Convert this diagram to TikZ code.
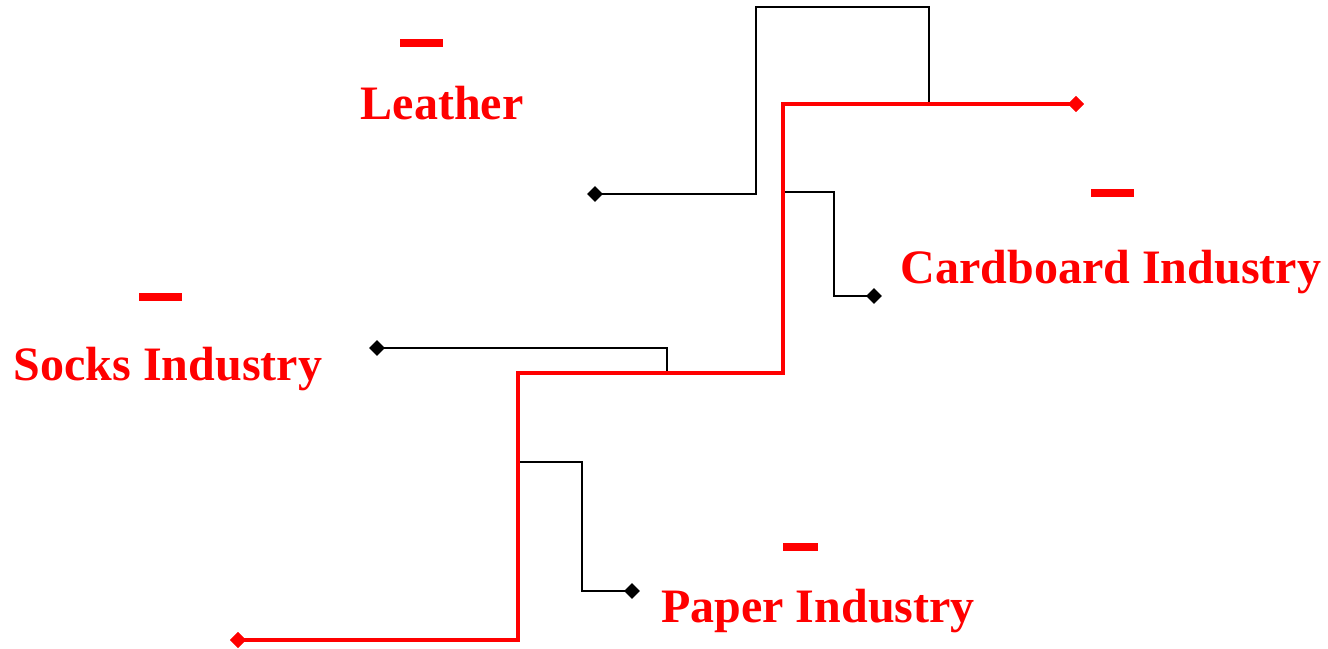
\documentclass[tikz,border=0pt]{standalone}
\usepackage{fontspec}
\setmainfont{Liberation Serif}
\usetikzlibrary{shapes.geometric}
\definecolor{pred}{RGB}{255,0,0}
\tikzset{
  blk/.style={line width=2bp, black},
  redl/.style={line width=3.2bp, pred},
  dmd/.style={diamond, fill=#1, inner sep=0pt, minimum width=16bp, minimum height=16bp},
  lbl/.style={text=pred, font=\fontsize{48bp}{48bp}\selectfont\bfseries, anchor=base, inner sep=0pt},
  minusbar/.style={fill=pred, inner sep=0pt, minimum height=8bp},
}
\begin{document}
\begin{tikzpicture}[x=1bp, y=-1bp]
\useasboundingbox (0,0) rectangle (1328,649);
% red main line
\node[dmd=pred] (rs) at (238,640) {};
\node[dmd=pred] (re) at (1076,104) {};
\coordinate (r1) at (518,640);
\coordinate (r2) at (518,373);
\coordinate (r3) at (783,373);
\coordinate (r4) at (783,104);
% black branches
\node[dmd=black] (b1) at (595,194) {};
\coordinate (b1a) at (756,194);
\coordinate (b1b) at (756,7);
\coordinate (b1c) at (929,7);
\coordinate (b1d) at (929,104);
\coordinate (b2s) at (783,192);
\coordinate (b2a) at (834,192);
\coordinate (b2b) at (834,296);
\node[dmd=black] (b2) at (874,296) {};
\node[dmd=black] (b3) at (377,348) {};
\coordinate (b3a) at (667,348);
\coordinate (b3b) at (667,373);
\coordinate (b4s) at (518,462);
\coordinate (b4a) at (582,462);
\coordinate (b4b) at (582,591);
\node[dmd=black] (b4) at (632,591) {};
\draw[blk, line join=miter] (b1.center) -- (b1a) -- (b1b) -- (b1c) -- (b1d);
\draw[blk, line join=miter] (b2s) -- (b2a) -- (b2b) -- (b2.center);
\draw[blk, line join=miter] (b3.center) -- (b3a) -- (b3b);
\draw[blk, line join=miter] (b4s) -- (b4a) -- (b4b) -- (b4.center);
\draw[redl, line join=miter] (rs.center) -- (r1) -- (r2) -- (r3) -- (r4) -- (re.center);
\node[dmd=pred] at (rs) {};
\node[dmd=pred] at (re) {};
% minus bars
\node[minusbar, minimum width=43bp] (m1) at (421,43) {};
\node[minusbar, minimum width=43bp] (m2) at (1112,193) {};
\node[minusbar, minimum width=43bp] (m3) at (160,297) {};
\node[minusbar, minimum width=35bp] (m4) at (800,547) {};
% labels
\node[lbl] (l1) at (442,120) {Leather};
\node[lbl] (l2) at (1111,283) {Cardboard Industry};
\node[lbl] (l3) at (168,380) {Socks Industry};
\node[lbl] (l4) at (818,622) {Paper Industry};
\end{tikzpicture}
\end{document}
